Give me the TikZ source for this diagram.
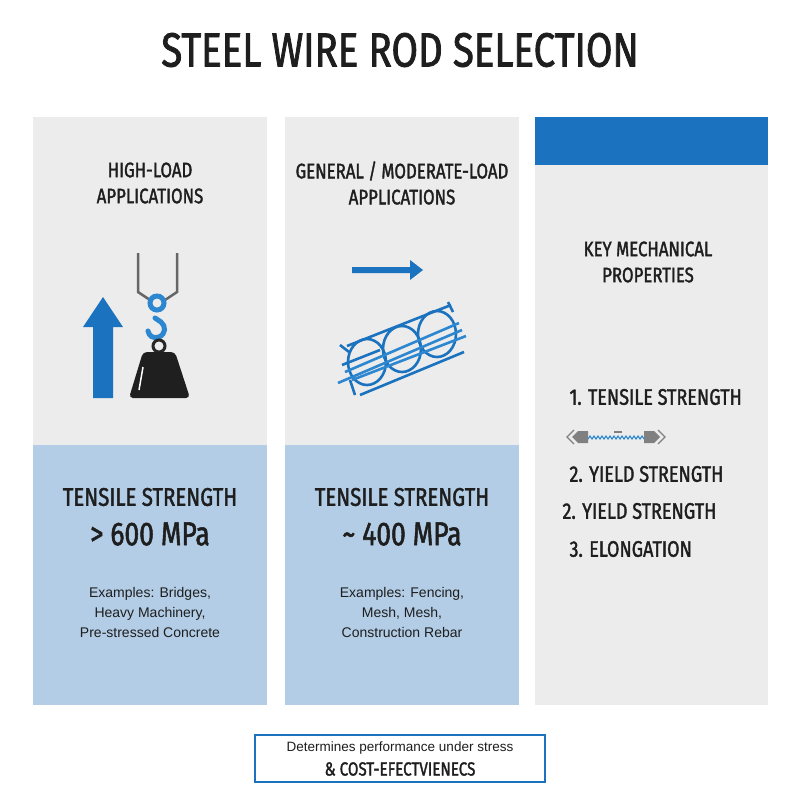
\documentclass[tikz,border=0pt]{standalone}
\usepackage{fontspec}
\setmainfont{Liberation Sans}
\newfontfamily\cond[FakeStretch=0.8,FakeBold=1.6]{Fira Sans}
\definecolor{pgray}{HTML}{ECECEC}
\definecolor{pblue}{HTML}{B3CDE6}
\definecolor{dblue}{HTML}{1B72BE}
\definecolor{mblue}{HTML}{2C86D0}
\definecolor{txt}{HTML}{1E1E1E}
\tikzset{
 hd/.style={font=\cond\fontsize{21}{26}\selectfont, text=txt, align=center},
 big/.style={font=\cond\fontsize{25.5}{28}\selectfont, text=txt},
 huge/.style={font=\cond\fontsize{33}{36}\selectfont, text=txt},
 ex/.style={font=\fontsize{14}{20}\selectfont, text=txt, align=center},
 item/.style={font=\cond\fontsize{22.5}{25}\selectfont, text=txt, anchor=west},
}
\begin{document}
\begin{tikzpicture}[x=1pt,y=-1pt]
\useasboundingbox (0,0) rectangle (800,800);
\fill[white] (0,0) rectangle (800,800);
\node[font=\cond\fontsize{48}{52}\selectfont, text=txt] (title) at (400,50) {STEEL WIRE ROD SELECTION};
% columns
\fill[pgray] (33,117) rectangle (267,445);
\fill[pblue] (33,445) rectangle (267,705);
\fill[pgray] (285,117) rectangle (519,445);
\fill[pblue] (285,445) rectangle (519,705);
\fill[pgray] (535,117) rectangle (768,705);
\fill[dblue] (535,117) rectangle (768,165);
% col1
\node[hd] (h1) at (150,183) {HIGH-LOAD\\APPLICATIONS};
\fill[dblue] (93,398) -- (93,327) -- (83,327) -- (103,297) -- (123,327) -- (113,327) -- (113,398) -- cycle;
\draw[gray!80!black, line width=2.5] (138,253) -- (138,292) -- (150,300);
\draw[gray!80!black, line width=2.5] (177,253) -- (177,292) -- (165,300);
\draw[mblue, line width=5] (157,303) circle (7);
\draw[mblue, line width=5, line cap=round] (155,318) -- (161,322) .. controls (166,326) and (166,334) .. (159,337) .. controls (153,339) and (149,336) .. (148,331);
\draw[black!85, line width=3] (159,346) circle (6);
\fill[black!88, rounded corners=4] (143,352) -- (175,352) -- (190,398) -- (129,398) -- cycle;
\draw[white, line width=1.5] (143,367) -- (139,390);
\node[big] (t1) at (150,497) {TENSILE STRENGTH};
\node[huge] (v1) at (150,534) {> 600 MPa};
\node[ex] (e1) at (150,612) {Examples: Bridges,\\Heavy Machinery,\\Pre-stressed Concrete};
% col2
\node[hd] (h2) at (402,183) {GENERAL / MODERATE-LOAD\\APPLICATIONS};
\fill[dblue] (352,267) -- (410,267) -- (410,260) -- (423,270) -- (410,280) -- (410,273) -- (352,273) -- cycle;
\begin{scope}[line width=2.6]
 \foreach \c in {(367,362),(402,349),(437,334)}
   \draw[dblue] \c ellipse (19 and 23);
 \draw[dblue] (347,346) -- (451,305);
 \draw[dblue] (360,395) -- (464,352);
 \draw[dblue] (342,365) -- (380,350);
 \draw[mblue] (338,383) -- (462,330);
 \draw[mblue] (345,372) -- (459,323);
 \draw[mblue] (352,380) -- (466,336);
 \draw[dblue] (350,380) -- (355,395);
 \draw[dblue] (340,345) -- (349,352);
 \draw[dblue] (448,302) -- (453,312);
\end{scope}
\node[big] (t2) at (402,497) {TENSILE STRENGTH};
\node[huge] (v2) at (402,534) {\textasciitilde{} 400 MPa};
\node[ex] (e2) at (402,612) {Examples: Fencing,\\Mesh, Mesh,\\Construction Rebar};
% col3
\node[hd] (h3) at (648,262) {KEY MECHANICAL\\PROPERTIES};
\node[item] (i1) at (566,397) {1. TENSILE STRENGTH};
\node[item] (i2) at (566,474) {2. YIELD STRENGTH};
\node[item] (i3) at (559,511) {2. YIELD STRENGTH};
\node[item] (i4) at (566,549) {3. ELONGATION};
\fill[gray] (572,437) -- (578,431) -- (588,431) -- (588,443) -- (578,443) -- cycle;
\fill[gray] (660,437) -- (654,431) -- (644,431) -- (644,443) -- (654,443) -- cycle;
\draw[gray, line width=1.2] (574,430) -- (567,437) -- (574,444);
\draw[gray, line width=1.2] (658,430) -- (665,437) -- (658,444);
\draw[mblue, line width=1.1] (588,439) \foreach \k in {0,...,13} {-- ++(2,-3) -- ++(2,3)};
\draw[gray, line width=2] (614,432) -- (622,432);
% bottom
\draw[dblue, line width=1.2, fill=white] (255,735) rectangle (545,782);
\node[font=\fontsize{13.5}{16}\selectfont, text=txt] (b1) at (400,748) {Determines performance under stress};
\node[font=\cond\fontsize{19}{20}\selectfont, text=txt] (b2) at (400,769) {\& COST-EFECTVIENECS};
\end{tikzpicture}
\end{document}
